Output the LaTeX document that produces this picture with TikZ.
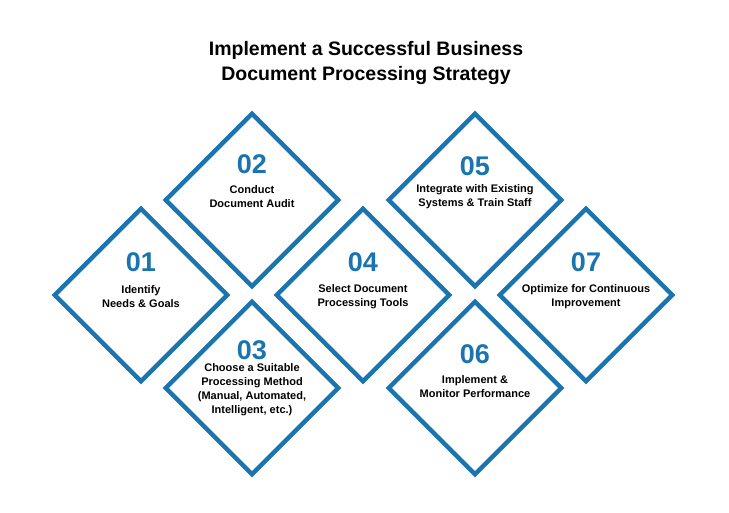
\documentclass[tikz,border=0pt]{standalone}
\usepackage{fontspec}
\setmainfont{Liberation Sans}
\definecolor{db}{HTML}{1A74B0}
\begin{document}
\begin{tikzpicture}[x=1pt,y=-1pt,
  dia/.style={draw=db,line width=4.5pt,fill=white,minimum width=122pt,minimum height=122pt,rotate=45,inner sep=0pt},
  num/.style={font=\bfseries\fontsize{27}{27}\selectfont,text=db},
  lbl/.style={font=\bfseries\fontsize{11}{14}\selectfont,align=center}]
\useasboundingbox (0,0) rectangle (729,512);
\node[font=\bfseries\fontsize{19.5}{25}\selectfont,align=center] (title) at (366,63) {Implement a Successful Business\\Document Processing Strategy};
\foreach \n/\x/\y in {d1/141/295,d2/252/200,d3/252/388,d4/363/295,d5/475/200,d6/475/388,d7/586/295}
  \node[dia] (\n) at (\x,\y) {};
\node[num] (n1) at (141,262) {01};
\node[lbl] (t1) at (141,297) {Identify\\Needs \& Goals};
\node[num] (n2) at (252,164) {02};
\node[lbl] (t2) at (252,197) {Conduct\\Document Audit};
\node[num] (n3) at (252,350) {03};
\node[lbl] (t3) at (252,390) {Choose a Suitable\\Processing Method\\(Manual, Automated,\\Intelligent, etc.)};
\node[num] (n4) at (363,262) {04};
\node[lbl] (t4) at (363,297) {Select Document\\Processing Tools};
\node[num] (n5) at (475,166) {05};
\node[lbl] (t5) at (475,197) {Integrate with Existing\\Systems \& Train Staff};
\node[num] (n6) at (475,354) {06};
\node[lbl] (t6) at (475,387) {Implement \&\\Monitor Performance};
\node[num] (n7) at (586,262) {07};
\node[lbl] (t7) at (586,297) {Optimize for Continuous\\Improvement};
\end{tikzpicture}
\end{document}
